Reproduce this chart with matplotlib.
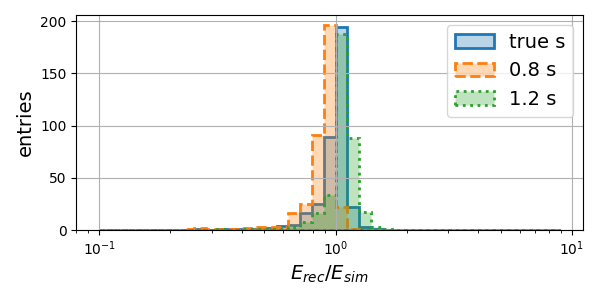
import numpy as np
import matplotlib
matplotlib.use("Agg")
import matplotlib.pyplot as plt
from matplotlib.colors import to_rgba

# log-spaced bin edges (0.05 decade per bin)
bin_edges = np.logspace(-1, 0.95, 40)
bin_centers = np.sqrt(bin_edges[:-1] * bin_edges[1:])

labels = ["true s", "0.8 s", "1.2 s"]
true_s = [0, 0, 0, 0, 0, 0, 0, 0, 1, 0, 1, 1, 1, 1, 2, 4, 5, 16, 25, 89,
          194, 22, 3, 1, 0, 0, 0, 0, 0, 0, 0, 0, 0, 0, 0, 0, 0, 0, 0]
s_08 = [0, 0, 0, 0, 0, 0, 0, 1, 2, 1, 1, 1, 2, 3, 3, 3, 16, 25, 91, 196,
        22, 1, 0, 0, 0, 0, 0, 0, 0, 0, 0, 0, 0, 0, 0, 0, 0, 0, 0]
s_12 = [0, 0, 0, 0, 0, 0, 0, 0, 0, 0, 1, 0, 1, 1, 1, 1, 3, 8, 16, 34,
        188, 88, 17, 3, 1, 0, 0, 0, 0, 0, 0, 0, 0, 0, 0, 0, 0, 0, 0]

series = [true_s, s_08, s_12]
colors = ["#1f77b4", "#ff7f0e", "#2ca02c"]
styles = ["-", "--", ":"]

fig = plt.figure(figsize=(6, 3), dpi=100)
ax = fig.add_axes([0.127, 0.233, 0.845, 0.717])

for vals, lab, c, ls in zip(series, labels, colors, styles):
    ax.hist(bin_centers, bins=bin_edges, weights=vals, histtype="stepfilled",
            facecolor=to_rgba(c, 0.3), edgecolor=c, linewidth=2,
            linestyle=ls, label=lab)

ax.set_xscale("log")
ax.grid(True)
ax.set_xlabel("$E_{rec}/E_{sim}$", fontsize=14)
ax.set_ylabel("entries", fontsize=14)
ax.legend(loc="upper right", fontsize=14)

fig.savefig("out.png", dpi=100)
